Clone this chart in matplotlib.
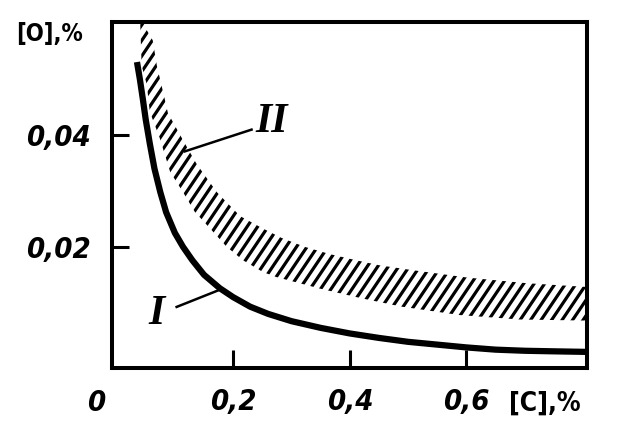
import numpy as np
import matplotlib
matplotlib.use('Agg')
import matplotlib.pyplot as plt
from matplotlib.collections import LineCollection

# Curve I: equilibrium [O] vs [C]
curve_c = [0.035, 0.040, 0.045, 0.050, 0.057, 0.065, 0.075, 0.085, 0.1, 0.114,
           0.13, 0.15, 0.177, 0.2, 0.229, 0.26, 0.3, 0.35, 0.4, 0.45,
           0.5, 0.55, 0.6, 0.65, 0.7, 0.75, 0.806]
curve_o = [0.0531, 0.0500, 0.0465, 0.0428, 0.0385, 0.0340, 0.0298, 0.0262, 0.0225, 0.0200,
           0.0176, 0.0150, 0.0126, 0.0110, 0.0093, 0.0080, 0.0067, 0.0055, 0.0045, 0.0037,
           0.0030, 0.0025, 0.0020, 0.0016, 0.0014, 0.0013, 0.0012]

# Band II (hatched region), upper and lower edges
band_up_c = [0.046, 0.049, 0.062, 0.069, 0.083, 0.088, 0.114, 0.137, 0.172, 0.212,
             0.249, 0.283, 0.323, 0.366, 0.411, 0.451, 0.503, 0.602, 0.703, 0.81]
band_up_o = [0.062, 0.0593, 0.0570, 0.0525, 0.0463, 0.044, 0.0391, 0.0349, 0.0298, 0.0255,
             0.0234, 0.0216, 0.0200, 0.0187, 0.0176, 0.0167, 0.0159, 0.0145, 0.0135, 0.0128]
band_lo_c = [0.040, 0.042, 0.043, 0.052, 0.057, 0.074, 0.092, 0.114, 0.134, 0.163,
             0.189, 0.217, 0.251, 0.274, 0.35, 0.42, 0.489, 0.588, 0.691, 0.81]
band_lo_o = [0.062, 0.0555, 0.0525, 0.049, 0.0442, 0.0395, 0.0334, 0.0298, 0.0263, 0.023,
             0.020, 0.0176, 0.0155, 0.0146, 0.0125, 0.0108, 0.0093, 0.0078, 0.0070, 0.0068]

xticks = [0.2, 0.4, 0.6]
xtick_labels = ['0,2', '0,4', '0,6']
yticks = [0.02, 0.04]
ytick_labels = ['0,02', '0,04']

lab_font = dict(family='DejaVu Sans', stretch='condensed', weight='bold', style='italic')
fig = plt.figure(figsize=(6.22, 4.28), dpi=100)
ax = fig.add_axes([0.180, 0.140, 0.763, 0.809])

ax.set_xlim(-0.0079, 0.806)
ax.set_ylim(-0.0017, 0.0603)

# hatched band: parallel strokes clipped to the band outline
band = ax.fill(band_up_c + band_lo_c[::-1], band_up_o + band_lo_o[::-1],
               facecolor='none', edgecolor='none')[0]
W, H = 474.7, 346.3
theta = np.radians(56)
step = 10.5 / W
shift = H / np.tan(theta) / W
segs = [[(x0, 0), (x0 + shift, 1)] for x0 in np.arange(-1.0, 1.5, step)]
lc = LineCollection(segs, colors='black', linewidths=2.3, transform=ax.transAxes)
lc.set_clip_path(band)
ax.add_collection(lc)

# curve I
ax.plot(curve_c, curve_o, color='black', lw=4.5, solid_capstyle='butt', solid_joinstyle='round')

# leader lines and labels
ax.plot([0.103, 0.174], [0.00925, 0.0122], color='black', lw=1.8)
ax.plot([0.2315, 0.117], [0.0410, 0.0371], color='black', lw=1.8)
ax.text(0.0684, 0.0080, 'I', fontsize=30, family='Liberation Serif', weight='bold',
        style='italic', ha='center', va='center')
ax.text(0.266, 0.0424, 'II', fontsize=30, family='Liberation Serif', weight='bold',
        style='italic', ha='center', va='center')

for s in ax.spines.values():
    s.set_linewidth(2.9)

ax.set_xticks(xticks)
ax.set_xticklabels(xtick_labels, fontdict=lab_font, fontsize=21)
ax.set_yticks(yticks)
ax.set_yticklabels(ytick_labels, fontdict=lab_font, fontsize=21)
ax.tick_params(axis='x', direction='in', length=13, width=2.2, pad=14)
ax.tick_params(axis='y', direction='in', length=12, width=2.2, pad=15)

fig.text(96 / 622, 1 - 403 / 428, '0', ha='center', va='center', fontsize=21, **lab_font)
fig.text(545 / 622, 1 - 404 / 428, '[C],%', ha='center', va='center', fontsize=19,
         family='DejaVu Sans', stretch='condensed', weight='bold')
fig.text(49 / 622, 1 - 34 / 428, '[O],%', ha='center', va='center', fontsize=17,
         family='DejaVu Sans', stretch='condensed', weight='bold')

fig.savefig('out.png', dpi=100)
